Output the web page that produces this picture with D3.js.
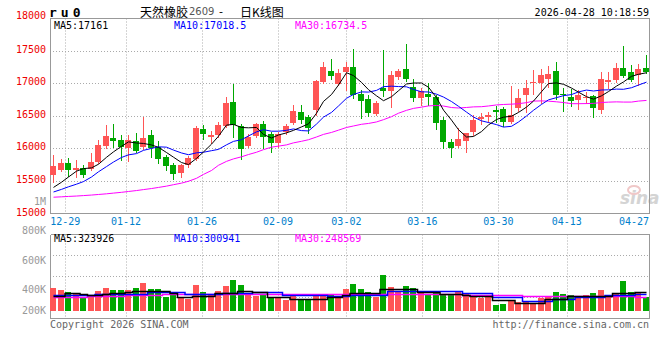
<!DOCTYPE html>
<html><head><meta charset="utf-8">
<script src="https://cdn.jsdelivr.net/npm/d3@7"></script>
<style>
body{margin:0;background:#fff;}
svg{display:block;}
text{font-family:"DejaVu Sans Mono",monospace;font-size:10px;}
</style>
</head><body>
<svg id="c" width="660" height="360"></svg>
<script>
const dates = ["12-25","12-26","12-29","12-30","12-31","01-05","01-06","01-07","01-08","01-09",
"01-12","01-13","01-14","01-15","01-16","01-19","01-20","01-21","01-22","01-23",
"01-26","01-27","01-28","01-29","01-30","02-02","02-03","02-04","02-05","02-06",
"02-09","02-10","02-11","02-12","02-13","02-24","02-25","02-26","02-27","03-02",
"03-03","03-04","03-05","03-06","03-09","03-10","03-11","03-12","03-13","03-16",
"03-17","03-18","03-19","03-20","03-23","03-24","03-25","03-26","03-27","03-30",
"03-31","04-01","04-02","04-03","04-07","04-08","04-09","04-10","04-13","04-14",
"04-15","04-16","04-17","04-20","04-21","04-22","04-23","04-24","04-27","04-28"];

const open = [15590,15670,15770,15670,15705,15680,15795,16035,16165,16125,
16000,16110,16015,16205,16025,15870,15745,15615,15745,15835,
16295,16180,16205,16340,16715,16340,16035,16190,16380,16220,
16085,16255,16395,16560,16475,16595,17020,17185,16985,17165,
17250,16840,16750,16525,16920,16880,17095,17210,16945,16780,
16840,16790,16435,16100,16035,16115,16255,16445,16485,16585,
16600,16410,16625,16815,17005,16995,17065,17185,16840,16790,
16740,16780,16800,16595,17020,17045,17240,17165,17120,17240];
const high = [15900,15835,15845,15820,15745,15925,16130,16355,16380,16205,
16205,16230,16485,16280,16115,15900,15770,15760,15885,16340,
16355,16270,16410,16790,16980,16370,16220,16395,16425,16255,
16255,16370,16665,16665,16510,17055,17325,17375,17225,17325,
17520,16890,16815,16730,17505,17190,17225,17595,17070,16920,
17005,16815,16485,16140,16305,16240,16510,16545,16560,16650,
16640,16955,16905,17045,17200,17210,17260,17325,16930,16905,
16890,16865,16815,17175,17175,17310,17565,17275,17290,17430];
const low = [15490,15655,15575,15555,15565,15660,15780,16000,16025,15820,
15810,15950,15985,15870,15770,15670,15525,15565,15710,15820,
16145,16085,16180,16320,16180,15830,16025,16180,16000,15950,
16015,16220,16380,16395,16240,16510,17005,17070,16970,16890,
16780,16460,16495,16510,16800,16640,17070,17035,16730,16665,
16665,16290,16000,15870,16025,15950,16205,16370,16410,16410,
16340,16395,16575,16560,16840,16690,16945,16750,16575,16650,
16610,16700,16475,16545,16920,17020,17095,17035,16970,17160];
const close = [15730,15770,15660,15695,15590,15785,16050,16190,16115,16015,
16125,15965,16155,16000,15830,15730,15605,15745,15845,16305,
16220,16205,16355,16700,16355,15985,16180,16380,16170,16075,
16220,16340,16575,16435,16305,17035,17250,17105,17160,17250,
16815,16730,16545,16690,16875,17120,17190,17060,16765,16880,
16790,16395,16100,16000,16145,16230,16435,16475,16510,16560,
16410,16510,16765,16920,17020,17130,17135,16815,16815,16730,
16815,16790,16625,17070,17055,17235,17110,17055,17225,17175];

const ma5 = [15400,15480,15560,15650,15689,15700,15756,15862,15946,16031,
16099,16082,16075,16052,16015,15936,15864,15782,15751,15846,
15944,16064,16186,16357,16367,16320,16315,16320,16214,16158,
16205,16237,16276,16329,16375,16538,16720,16826,16971,17160,
17116,17012,16900,16806,16731,16792,16884,16987,17002,17003,
16937,16778,16586,16433,16286,16174,16182,16257,16359,16442,
16478,16493,16551,16633,16725,16869,16994,17004,16983,16925,
16862,16793,16755,16806,16871,16955,17019,17105,17136,17160];
const ma10 = [15330,15370,15410,15450,15490,15560,15640,15720,15790,15860,
15900,15919,15969,15999,16023,16018,15973,15929,15902,15931,
15940,15964,15984,16054,16107,16132,16190,16253,16286,16263,
16263,16276,16298,16272,16267,16372,16479,16551,16650,16768,
16827,16866,16863,16889,16946,16954,16948,16944,16904,16867,
16865,16831,16787,16718,16645,16556,16480,16422,16396,16364,
16326,16338,16404,16496,16584,16674,16744,16778,16808,16825,
16866,16894,16880,16895,16898,16909,16906,16930,16971,17016];
const ma30 = [15250,15256,15262,15268,15275,15283,15292,15302,15313,15325,
15338,15352,15367,15383,15400,15420,15442,15466,15495,15540,
15600,15660,15740,15800,15838,15870,15905,15940,15980,16018,
16034,16053,16084,16108,16132,16174,16214,16244,16279,16320,
16343,16369,16382,16405,16440,16486,16539,16583,16613,16632,
16651,16658,16649,16626,16619,16627,16636,16639,16650,16666,
16673,16678,16685,16701,16725,16728,16724,16714,16703,16685,
16685,16687,16690,16703,16709,16713,16710,16710,16725,16735];

// volume in thousands of lots
const volume = [356,340,325,318,295,295,334,356,340,340,
340,356,390,347,347,295,311,288,279,374,
329,306,334,370,408,374,306,302,313,295,
288,272,313,277,277,302,313,313,302,347,
381,347,329,295,442,363,329,370,352,318,
306,318,311,306,334,311,302,288,302,239,
245,272,257,257,243,284,302,329,313,306,
302,306,322,340,302,322,401,329,318,295];
const volMa5 = [302,302,322,322,312,305,305,310,318,318,
325,335,335,335,335,335,320,295,295,298,
298,298,318,318,318,333,333,325,325,295,
295,295,281,281,281,281,281,291,291,305,
318,318,318,318,346,346,346,346,346,329,
329,329,311,311,311,305,300,300,300,272,
272,272,250,250,250,250,277,277,277,300,
300,300,300,300,300,318,318,318,329,329];
const volMa10 = [306,306,306,306,306,306,316,316,316,316,
316,316,316,330,330,330,330,330,316,316,
316,316,316,320,320,320,320,325,325,325,
325,306,306,306,306,306,306,300,300,300,
309,309,309,309,309,334,334,334,334,334,
334,334,334,334,334,318,318,318,318,291,
291,291,291,266,266,266,266,277,277,277,
295,295,295,295,306,306,306,306,311,311];
const volMa30 = [290,291,292,294,295,297,298,300,301,302,
304,305,307,308,309,310,310,310,310,310,
310,310,310,310,310,310,310,310,310,310,
310,310,310,310,310,310,310,310,310,310,
310,310,310,310,310,310,310,310,310,310,
310,310,310,310,310,308,307,306,306,305,
305,304,304,303,303,302,302,301,301,300,
300,299,299,298,298,297,297,297,296,296];

const priceTicks = [15000,15500,16000,16500,17000,17500,18000];
const dateTicks = ["12-29","01-12","01-26","02-09","03-02","03-16","03-30","04-13","04-27"];
const volTicks = [200,400,600,800,1000];
const volTickLabels = ["200K","400K","600K","800K","1M"];
const legendPrice = [["MA5:17161","#000"],["MA10:17018.5","#0000ff"],["MA30:16734.5","#ff00ff"]];
const legendVol = [["MA5:323926","#000"],["MA10:300941","#0000ff"],["MA30:248569","#ff00ff"]];

const svg = d3.select("#c");
const L = 50, R = 649.5;
const PT = 18.5, PB = 213.5, VT = 234.5, VB = 318.5, VBASE = 311;
const RED = "#ff5555", GREEN = "#00a800", GRID = "#aaaaaa", BORDER = "#999999";

const xb = d3.scaleBand().domain(d3.range(dates.length)).range([50, 650])
  .paddingInner(0.2).paddingOuter(0.1).align(0);
const gx = d3.scaleLinear().domain([0, 80]).range([50, 658]);
const y = d3.scaleLinear().domain([15000, 18000]).range([213.5, 18]);
const yv = d3.scaleLinear().domain([200, 800]).range([310.7, 222.2]);
const yvGrid = d3.scaleLinear().domain([0, 4]).range([318.3, 234.3]);
const bx = i => Math.round(xb(i));
const cx = i => bx(i) + 3.5;
const up = i => close[i] >= open[i];

const g = svg.append("g");
// grid: price horizontals
g.selectAll(".hg").data(priceTicks.filter(v => v > 15000 && v < 18000)).join("line")
  .attr("x1", L).attr("x2", R)
  .attr("y1", d => Math.round(y(d)) + 0.5).attr("y2", d => Math.round(y(d)) + 0.5)
  .attr("stroke", GRID).attr("stroke-dasharray", "1,2");
// volume horizontals
g.selectAll(".vg").data([1, 2, 3]).join("line")
  .attr("x1", L).attr("x2", R)
  .attr("y1", d => Math.round(yvGrid(d)) + 0.5).attr("y2", d => Math.round(yvGrid(d)) + 0.5)
  .attr("stroke", GRID).attr("stroke-dasharray", "1,2");
// verticals
const tickIdx = dateTicks.map(t => dates.indexOf(t));
const vIdx = tickIdx.filter(i => gx(i) < 640);
[[PT, PB], [VT, VB]].forEach(([a, b]) => {
  g.append("g").selectAll("line").data(vIdx).join("line")
    .attr("x1", i => Math.round(gx(i)) + 0.5).attr("x2", i => Math.round(gx(i)) + 0.5)
    .attr("y1", a).attr("y2", b)
    .attr("stroke", GRID).attr("stroke-dasharray", "1,2");
});

// watermark
const wm = svg.append("g");
wm.append("text").attr("x", 620).attr("y", 204).text("sina")
  .style("font-family", "DejaVu Sans").style("font-size", "17px").style("font-weight", "bold")
  .style("font-style", "italic").attr("fill", "#d4d4d4");
wm.append("ellipse").attr("cx", 634).attr("cy", 190).attr("rx", 6).attr("ry", 4)
  .attr("fill", "none").attr("stroke", "#f0c8c8").attr("stroke-width", 2);

// borders
const b = svg.append("g").attr("stroke", BORDER).attr("shape-rendering", "crispEdges");
b.append("rect").attr("x", 50.5).attr("y", PT).attr("width", R - 50.5).attr("height", PB - PT).attr("fill", "none");
b.append("line").attr("x1", 50.5).attr("x2", R).attr("y1", VT).attr("y2", VT);
b.append("line").attr("x1", 50.5).attr("x2", 50.5).attr("y1", VT).attr("y2", VB);
b.append("line").attr("x1", R).attr("x2", R).attr("y1", VT).attr("y2", VB);
b.append("line").attr("x1", 50.5).attr("x2", R).attr("y1", VB).attr("y2", VB);

// candles
const cg = svg.append("g").attr("shape-rendering", "crispEdges");
const idx = d3.range(dates.length);
cg.selectAll(".w").data(idx).join("line")
  .attr("x1", cx).attr("x2", cx)
  .attr("y1", i => Math.round(y(high[i]))).attr("y2", i => Math.round(y(low[i])) + 1)
  .attr("stroke", i => up(i) ? RED : GREEN);
cg.selectAll(".b").data(idx).join("rect")
  .attr("x", bx).attr("width", 6)
  .attr("y", i => Math.round(y(Math.max(open[i], close[i]))))
  .attr("height", i => Math.max(1, Math.round(y(Math.min(open[i], close[i]))) - Math.round(y(Math.max(open[i], close[i])))))
  .attr("fill", i => up(i) ? RED : GREEN);

// price MAs
const line = d3.line().x((d, i) => cx(i)).y(d => y(d));
[[ma30, "#ff00ff"], [ma10, "#0000ff"], [ma5, "#000"]].forEach(([s, c]) => {
  svg.append("path").attr("d", line(s)).attr("fill", "none").attr("stroke", c).attr("stroke-width", 1);
});

// volume bars
svg.append("g").attr("shape-rendering", "crispEdges").selectAll("rect").data(idx).join("rect")
  .attr("x", bx).attr("width", 6)
  .attr("y", i => Math.round(yv(volume[i])))
  .attr("height", i => VBASE - Math.round(yv(volume[i])))
  .attr("fill", i => up(i) ? RED : GREEN);
const vline = d3.line().curve(d3.curveStep).x((d, i) => cx(i)).y(d => Math.round(yv(d)) + 0.5);
[[volMa30, "#ff00ff", 1.5], [volMa10, "#0000ff", 1.5], [volMa5, "#000", 1.5]].forEach(([s, c, w]) => {
  svg.append("path").attr("d", vline(s)).attr("fill", "none").attr("stroke", c).attr("stroke-width", w);
});

// axis labels
svg.append("g").selectAll("text").data(priceTicks).join("text")
  .attr("x", 46).attr("y", d => y(d) - (d === 18000 ? 3 : 1.5)).attr("text-anchor", "end")
  .attr("dominant-baseline", "central").attr("fill", "#ee0000").text(d => d);
svg.append("g").selectAll("text").data(volTicks).join("text")
  .attr("x", 46).attr("y", d => Math.min(310, yv(d) + 8.5)).attr("text-anchor", "end")
  .attr("dominant-baseline", "central").attr("fill", "#999").text((d, i) => volTickLabels[i]);
svg.append("g").selectAll("text").data(tickIdx).join("text")
  .attr("x", i => Math.min(gx(i), 634)).attr("y", 221.7).attr("text-anchor", "middle")
  .attr("dominant-baseline", "central").attr("fill", "#0080cc").text(i => dates[i]);

// legends
const lx = [54, 174, 295];
legendPrice.forEach(([t, c], k) => svg.append("text").attr("x", lx[k]).attr("y", 25)
  .attr("dominant-baseline", "central").attr("fill", c).text(t));
legendVol.forEach(([t, c], k) => svg.append("text").attr("x", lx[k]).attr("y", 238.5)
  .attr("dominant-baseline", "central").attr("fill", c).text(t));

// header
svg.append("text").attr("x", 49).attr("y", 12).attr("dominant-baseline", "central")
  .style("font-size", "13px").style("font-weight", "bold").style("letter-spacing", "4px").text("ru0");
const tt = svg.append("text").attr("y", 11).attr("dominant-baseline", "central");
tt.append("tspan").attr("x", 140).style("font-family", "'Noto Sans CJK SC'").style("font-size", "12px").text("天然橡胶");
tt.append("tspan").attr("x", 189).style("font-family", "'DejaVu Sans'").style("font-size", "10px").attr("fill", "#555").text("2609");
tt.append("tspan").attr("x", 219).style("font-family", "'DejaVu Sans'").style("font-size", "11px").text("-");
tt.append("tspan").attr("x", 240).style("font-family", "'Noto Sans CJK SC'").style("font-size", "12px").text("日K线图");
svg.append("text").attr("x", 649).attr("y", 12.3).attr("text-anchor", "end")
  .attr("dominant-baseline", "central").text("2026-04-28 10:18:59");

// footer
svg.append("text").attr("x", 50).attr("y", 324).attr("dominant-baseline", "central")
  .attr("fill", "#666").text("Copyright 2026 SINA.COM");
svg.append("text").attr("x", 649).attr("y", 324).attr("text-anchor", "end").attr("dominant-baseline", "central")
  .attr("fill", "#666").text("http://finance.sina.com.cn");
</script>
</body></html>
